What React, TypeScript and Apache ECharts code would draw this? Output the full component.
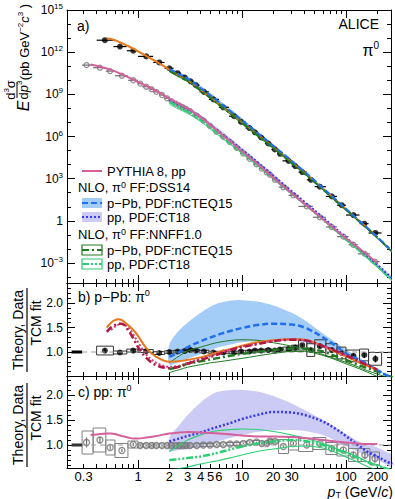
import { useEffect, useRef } from 'react';
import * as echarts from 'echarts';

const FONT = '"Liberation Sans", Arial, Helvetica, sans-serif';
const N = null;

// ---------- TCM fit grid (pT in GeV/c) ----------
const fitPt = [0.3, 0.35, 0.4, 0.5, 0.55, 0.6, 0.65, 0.7, 0.8, 0.9, 1, 1.2, 1.5, 2, 2.5, 3, 4, 5, 6, 8, 10, 14, 20, 30, 40, 60, 80, 100, 130, 160, 200, 250, 280];
const pPbFit = [1.12e13, 1.0e13, 8.9e12, 6.6e12, 5.4e12, 4.3e12, 3.4e12, 2.7e12, 1.78e12, 1.23e12, 8.7e11, 5.0e11, 2.4e11, 7.2e10, 2.6e10, 1.2e10, 2.3e9, 6.2e8, 2.1e8, 3.7e7, 9.5e6, 1.23e6, 1.41e5, 1.2e4, 2.1e3, 170, 29, 7.4, 1.5, 0.43, 0.112, 0.028, 0.014];
const ppFit = [1.26e11, 1.12e11, 8.9e10, 5.6e10, 4.5e10, 3.5e10, 2.8e10, 2.2e10, 1.48e10, 1.0e10, 6.8e9, 3.5e9, 1.5e9, 4.0e8, 1.6e8, 7.9e7, 1.9e7, 5.0e6, 1.66e6, 3.0e5, 7.6e4, 9.8e3, 1.0e3, 79, 14, 1.2, 0.21, 0.056, 0.0126, 0.0038, 0.001, 2.5e-4, 1.26e-4];

// model / fit ratios on the fit grid
const orangeRatio = [N, N, N, 1.5, 1.6, 1.65, 1.67, 1.65, 1.55, 1.45, 1.33, 1.08, 0.9, 0.8, 0.81, 0.84, 0.89, 0.95, 1.0, 1.07, 1.13, 1.2, 1.24, 1.26, 1.25, 1.12, 1.0, 0.91, 0.8, 0.72, 0.63, N, N];
const crimsonRatio = [N, N, N, 1.41, 1.5, 1.55, 1.58, 1.58, 1.45, 1.28, 1.1, 0.88, 0.73, 0.67, 0.7, 0.76, 0.84, 0.9, 0.96, 1.05, 1.1, 1.16, 1.22, 1.25, 1.24, 1.12, 1.02, 0.93, 0.82, 0.73, 0.64, N, N];
const pinkDotRatio = [N, N, N, N, 1.45, 1.52, 1.56, 1.57, 1.5, 1.36, 1.2, 0.95, 0.78, 0.7, 0.72, 0.78, 0.86, 0.92, 0.98, 1.06, 1.11, 1.17, 1.23, 1.26, 1.24, 1.13, 1.03, 0.94, 0.83, 0.74, 0.65, N, N];
const pythiaRatio = [N, 1.2, 1.21, 1.23, 1.23, 1.22, 1.2, 1.18, 1.15, 1.13, 1.13, 1.15, 1.18, 1.23, 1.25, 1.26, 1.25, 1.24, 1.23, 1.21, 1.19, 1.17, 1.17, 1.16, 1.14, 1.1, 1.07, 1.05, 1.03, 1.02, 1.02, N, N];

// NLO grid
const nloPt = [2, 2.5, 3, 4, 5, 6, 8, 10, 14, 20, 30, 40, 60, 80, 100, 130, 160, 200, 250, 280];
const dssPPbC = [0.9, 1.0, 1.1, 1.22, 1.3, 1.36, 1.44, 1.49, 1.55, 1.58, 1.56, 1.5, 1.3, 1.12, 0.97, 0.85, 0.75, 0.63, 0.52, 0.48];
const dssPPbHi = [1.15, 1.45, 1.6, 1.8, 1.93, 2.0, 2.05, 2.06, 2.03, 1.95, 1.8, 1.65, 1.38, 1.2, 1.05, 0.9, 0.78, 0.65, 0.54, 0.5];
const dssPPbLo = [0.74, 0.8, 0.86, 0.96, 1.04, 1.1, 1.16, 1.2, 1.22, 1.23, 1.23, 1.2, 1.08, 0.98, 0.9, 0.8, 0.72, 0.62, 0.5, 0.46];
const nnPPbC = [0.65, 0.7, 0.76, 0.81, 0.85, 0.88, 0.93, 0.96, 1.0, 1.04, 1.07, 1.07, 1.01, 0.91, 0.84, 0.74, 0.67, 0.6, 0.52, 0.48];
const nnPPbE1 = [0.78, 0.92, 1.02, 1.1, 1.16, 1.2, 1.24, 1.25, 1.24, 1.19, 1.12, 1.06, 0.95, 0.86, 0.79, 0.7, 0.62, 0.55, 0.48, 0.45];
const nnPPbE2 = [0.58, 0.64, 0.69, 0.74, 0.78, 0.8, 0.84, 0.87, 0.92, 0.97, 1.01, 1.01, 0.93, 0.84, 0.76, 0.67, 0.59, 0.5, 0.42, 0.38];
const dssPpC = [1.07, 1.13, 1.18, 1.25, 1.32, 1.37, 1.45, 1.52, 1.6, 1.66, 1.65, 1.6, 1.47, 1.32, 1.18, 1.0, 0.87, 0.77, 0.66, 0.62];
const dssPpHi = [1.15, 1.4, 1.6, 1.85, 2.0, 2.07, 2.1, 2.1, 2.07, 1.98, 1.83, 1.7, 1.5, 1.35, 1.22, 1.08, 1.0, 0.95, 0.85, 0.8];
const dssPpLo = [0.88, 0.9, 0.92, 0.97, 1.03, 1.08, 1.15, 1.2, 1.26, 1.29, 1.3, 1.28, 1.2, 1.08, 0.98, 0.86, 0.78, 0.7, 0.6, 0.56];
const nnPpC = [0.7, 0.72, 0.74, 0.77, 0.81, 0.85, 0.92, 0.97, 1.03, 1.07, 1.1, 1.08, 1.0, 0.91, 0.84, 0.74, 0.66, 0.59, 0.52, 0.49];
const nnPpE1 = [0.87, 1.0, 1.1, 1.2, 1.26, 1.29, 1.31, 1.32, 1.31, 1.27, 1.2, 1.14, 1.03, 0.93, 0.86, 0.76, 0.67, 0.6, 0.52, 0.48];
const nnPpE2 = [0.5, 0.53, 0.56, 0.62, 0.66, 0.69, 0.75, 0.8, 0.87, 0.92, 0.97, 0.98, 0.94, 0.85, 0.76, 0.66, 0.57, 0.5, 0.42, 0.38];

// ---------- p-Pb data ----------
const pPbPt = [0.48, 0.67, 0.9, 1.2, 1.6, 2.0, 2.4, 2.8, 3.2, 3.6, 4.3, 5.3, 6.6, 8.4, 9.8, 11.8, 13.3, 15.3, 17.9, 20.7, 23.2, 28, 32.5, 38, 46, 56, 73, 91, 118, 150, 192];
const pPbEdges = [0.4, 0.58, 0.78, 1.0, 1.4, 1.8, 2.2, 2.6, 3.0, 3.4, 3.9, 4.8, 6.0, 7.5, 9.2, 10.8, 12.6, 14.2, 16.6, 19.2, 22, 24.5, 30, 35, 42, 50, 64, 82, 100, 135, 165, 220];
const pPbVal = [7.1e12, 2.5e12, 1.26e12, 5.0e11, 1.86e11, 7.2e10, 3.2e10, 1.6e10, 8.5e9, 4.5e9, 1.5e9, 4.4e8, 1.2e8, 2.8e7, 1.1e7, 4.0e6, 2.0e6, 8.5e5, 3.2e5, 1.2e5, 5.9e4, 1.86e4, 7.9e3, 2.95e3, 830, 270, 55, 13, 2.6, 0.63, 0.138];
const pPbRatio = [1.03, 0.99, 1.03, 1.02, 0.98, 1.0, 1.01, 1.02, 1.04, 1.03, 1.01, 0.99, 0.99, 0.99, 1.01, 1.01, 1.03, 1.03, 1.04, 1.03, 1.05, 1.06, 1.09, 1.14, 1.04, 1.12, 1.04, 0.98, 0.92, 0.94, 0.86];
const pPbStat = [0.04, 0.01, 0.01, 0.01, 0.01, 0.01, 0.01, 0.01, 0.01, 0.01, 0.01, 0.01, 0.01, 0.01, 0.01, 0.01, 0.01, 0.01, 0.01, 0.01, 0.015, 0.015, 0.02, 0.02, 0.03, 0.03, 0.04, 0.04, 0.05, 0.06, 0.07];
const pPbSys = [0.09, 0.03, 0.03, 0.03, 0.03, 0.025, 0.025, 0.025, 0.025, 0.025, 0.025, 0.025, 0.025, 0.025, 0.025, 0.025, 0.025, 0.025, 0.025, 0.025, 0.03, 0.04, 0.05, 0.1, 0.13, 0.13, 0.13, 0.12, 0.12, 0.12, 0.13];

// ---------- pp data ----------
const ppPt = [0.32, 0.43, 0.54, 0.7, 0.9, 1.05, 1.2, 1.35, 1.5, 1.7, 1.9, 2.1, 2.3, 2.5, 2.7, 2.9, 3.16, 3.67, 4.25, 4.92, 5.71, 6.61, 7.67, 8.89, 10.3, 11.9, 13.8, 15.5, 17.3, 18.6, 20.8, 25, 31.2, 41.9, 56.2, 72.8, 94.3, 117.6, 152, 190];
const ppEdges = [0.29, 0.37, 0.49, 0.6, 0.8, 1.0, 1.1, 1.3, 1.4, 1.6, 1.8, 2.0, 2.2, 2.4, 2.6, 2.8, 3.0, 3.4, 4.0, 4.6, 5.3, 6.2, 7.1, 8.3, 9.6, 11, 12.8, 14.7, 16.4, 18, 19.5, 22.5, 28, 35, 48, 64, 82, 106, 130, 170, 210];
const ppVal = [1.2e11, 7.9e10, 4.5e10, 2.1e10, 1.0e10, 5.8e9, 3.5e9, 2.3e9, 1.5e9, 8.9e8, 5.2e8, 3.3e8, 2.2e8, 1.6e8, 1.2e8, 9.1e7, 6.6e7, 3.0e7, 1.4e7, 5.5e6, 2.2e6, 9.5e5, 4.0e5, 1.6e5, 6.3e4, 2.6e4, 1.07e4, 5.2e3, 2.8e3, 1.9e3, 850, 250, 66, 10.7, 1.8, 0.37, 0.076, 0.02, 0.0045, 0.00126];
const ppRatio = [1.05, 1.1, 0.95, 0.89, 1.01, 0.99, 0.99, 0.99, 0.99, 0.99, 0.99, 0.99, 0.99, 0.99, 0.99, 0.99, 0.99, 0.99, 1.0, 1.0, 1.01, 1.01, 1.02, 1.02, 1.03, 1.05, 1.06, 1.03, 1.03, 1.08, 1.07, 0.97, 1.03, 1.0, 1.03, 0.93, 0.9, 0.8, 0.8, 0.73];
const ppStat = [0.1, 0.06, 0.04, 0.03, 0.03, 0.01, 0.01, 0.01, 0.01, 0.01, 0.01, 0.01, 0.01, 0.01, 0.01, 0.01, 0.01, 0.01, 0.01, 0.01, 0.01, 0.01, 0.01, 0.01, 0.01, 0.01, 0.01, 0.015, 0.015, 0.015, 0.015, 0.02, 0.03, 0.03, 0.04, 0.04, 0.05, 0.06, 0.07, 0.08];
const ppSys = [0.23, 0.24, 0.15, 0.14, 0.07, 0.03, 0.03, 0.03, 0.03, 0.03, 0.03, 0.03, 0.03, 0.03, 0.03, 0.03, 0.03, 0.03, 0.03, 0.03, 0.03, 0.03, 0.03, 0.03, 0.03, 0.03, 0.03, 0.03, 0.03, 0.03, 0.03, 0.14, 0.13, 0.13, 0.12, 0.12, 0.12, 0.13, 0.13, 0.13];

const normPt = [0.23, 0.29];
const unityPt = [0.29, 271];

// ---------- axis ticks / labels ----------
const xRange = [0.2075, 271];
const xLabelVals = [0.3, 1, 2, 3, 4, 5, 6, 10, 20, 30, 100, 200];
const xMinorVals = [0.3, 0.4, 0.5, 0.6, 0.7, 0.8, 0.9, 2, 3, 4, 5, 6, 7, 8, 9, 20, 30, 40, 50, 60, 70, 80, 90, 200];
const xMajorVals = [1, 10, 100];
const specRange = [-4.42, 15];
const specLabelExp = [-3, 0, 3, 6, 9, 12, 15];
const specMinorExp = [-4, -3, -2, -1, 0, 1, 2, 3, 4, 5, 6, 7, 8, 9, 10, 11, 12, 13, 14, 15];
const ratioRangeB = [0.51, 2.41];
const ratioRangeC = [0.54, 2.38];
const ratioLabels = [1.0, 1.5, 2.0];
const ratioMinor = [0.6, 0.7, 0.8, 0.9, 1.0, 1.1, 1.2, 1.3, 1.4, 1.5, 1.6, 1.7, 1.8, 1.9, 2.0, 2.1, 2.2, 2.3];

const C = {
  pythia: '#d4609c', orange: '#e8781a', crimson: '#b01844', pinkDot: '#d23c7c',
  dssPPb: '#1f6ff0', dssPPbBand: '#a3cdf6', dssPp: '#3838ee', dssPpBand: '#cbcbf6',
  nnPPb: '#1f7a1f', nnPp: '#2ccf72', ppData: '#707070',
};
const DASH = [6, 3];
const DOT = [2, 2];
const DASHDOT = [7, 3, 2, 3];
const DASHDOTDOT = [7, 2, 2, 2, 2, 2];

const lg = (v: number) => Math.log10(v);
const fitAt = (arr: number[], pt: number) => arr[fitPt.indexOf(pt)];

function ratioPts(pt: number[], r: (number | null)[]) {
  const out: number[][] = [];
  pt.forEach((x, i) => { if (r[i] != null) out.push([lg(x), r[i] as number]); });
  return out;
}
function specPts(pt: number[], fit: number[], r: (number | null)[]) {
  const out: number[][] = [];
  pt.forEach((x, i) => { if (r[i] != null) out.push([lg(x), lg(fitAt(fit, x) * (r[i] as number))]); });
  return out;
}

function buildOption() {
  const series: any[] = [];
  const G = (g: number) => ({ xAxisIndex: 4 * g, yAxisIndex: 4 * g });

  const line = (g: number, data: number[][], color: string, width: number, dash?: number[], smooth: number | boolean = 0.35) => {
    series.push({
      type: 'line', ...G(g), data, symbol: 'none', smooth, silent: true, clip: true,
      lineStyle: { color, width, type: dash || 'solid', cap: 'butt' },
    });
  };
  const band = (g: number, up: number[][], lo: number[][], fill: string) => {
    series.push({
      type: 'custom', ...G(g), clip: true, silent: true, data: [up[0]],
      renderItem: (_p: any, api: any) => ({
        type: 'polygon',
        shape: { points: up.map((d) => api.coord(d)).concat(lo.slice().reverse().map((d) => api.coord(d))), smooth: 0.3 },
        style: { fill },
      }),
    });
  };
  const rects = (g: number, data: number[][], stroke: string, lw = 1) => {
    series.push({
      type: 'custom', ...G(g), clip: true, silent: true, data,
      renderItem: (_p: any, api: any) => {
        const a = api.coord([api.value(0), api.value(3)]);
        const b = api.coord([api.value(1), api.value(2)]);
        return { type: 'rect', shape: { x: a[0], y: a[1], width: b[0] - a[0], height: b[1] - a[1] }, style: { fill: 'none', stroke, lineWidth: lw } };
      },
    });
  };
  const segs = (g: number, data: number[][], stroke: string, lw = 1) => {
    series.push({
      type: 'custom', ...G(g), clip: true, silent: true, data,
      renderItem: (_p: any, api: any) => {
        const a = api.coord([api.value(0), api.value(1)]);
        const b = api.coord([api.value(2), api.value(3)]);
        return { type: 'line', shape: { x1: a[0], y1: a[1], x2: b[0], y2: b[1] }, style: { stroke, lineWidth: lw } };
      },
    });
  };
  const points = (g: number, data: number[][], filled: boolean, color: string, size: number) => {
    series.push({
      type: 'scatter', ...G(g), data, symbol: 'circle', symbolSize: size, silent: true, clip: true,
      itemStyle: filled ? { color } : { color: 'rgba(255,255,255,0)', borderColor: color, borderWidth: 1.3 },
    });
  };

  // ----- panel a: spectra -----
  line(0, specPts(fitPt, pPbFit, orangeRatio), C.orange, 2);
  band(0, specPts(nloPt, pPbFit, dssPPbHi), specPts(nloPt, pPbFit, dssPPbLo), C.dssPPbBand);
  band(0, specPts(nloPt, ppFit, dssPpHi), specPts(nloPt, ppFit, dssPpLo), C.dssPpBand);
  line(0, specPts(nloPt, ppFit, nnPpE1), C.nnPp, 1);
  line(0, specPts(nloPt, ppFit, nnPpE2), C.nnPp, 1);
  line(0, specPts(nloPt, ppFit, nnPpC), C.nnPp, 2, DASHDOTDOT);
  line(0, specPts(nloPt, pPbFit, nnPPbE1), C.nnPPb, 1);
  line(0, specPts(nloPt, pPbFit, nnPPbE2), C.nnPPb, 1);
  line(0, specPts(nloPt, pPbFit, nnPPbC), C.nnPPb, 2, DASHDOT);
  line(0, specPts(nloPt, ppFit, dssPpC), C.dssPp, 2, DOT);
  line(0, specPts(nloPt, pPbFit, dssPPbC), C.dssPPb, 2, DASH);
  line(0, specPts(fitPt, ppFit, pythiaRatio), C.pythia, 2);
  segs(0, ppPt.map((_, i) => [lg(ppEdges[i]), lg(ppVal[i]), lg(ppEdges[i + 1]), lg(ppVal[i])]), C.ppData, 1.2);
  points(0, ppPt.map((x, i) => [lg(x), lg(ppVal[i])]), false, C.ppData, 5);
  segs(0, pPbPt.map((_, i) => [lg(pPbEdges[i]), lg(pPbVal[i]), lg(pPbEdges[i + 1]), lg(pPbVal[i])]), '#000', 1.2);
  points(0, pPbPt.map((x, i) => [lg(x), lg(pPbVal[i])]), true, '#000', 6);

  // ----- panel b: p-Pb ratios -----
  band(1, ratioPts(nloPt, dssPPbHi), ratioPts(nloPt, dssPPbLo), C.dssPPbBand);
  line(1, unityPt.map((x) => [lg(x), 1]), '#9a9a9a', 1, [5, 4], false);
  line(1, normPt.map((x) => [lg(x), 1]), '#000', 3, undefined, false);
  line(1, ratioPts(nloPt, nnPPbE1), C.nnPPb, 1);
  line(1, ratioPts(nloPt, nnPPbE2), C.nnPPb, 1);
  line(1, ratioPts(nloPt, nnPPbC), C.nnPPb, 2.5, DASHDOT);
  line(1, ratioPts(nloPt, dssPPbC), C.dssPPb, 2.5, DASH);
  line(1, ratioPts(fitPt, orangeRatio), C.orange, 2);
  line(1, ratioPts(fitPt, pinkDotRatio), C.pinkDot, 2, DOT);
  line(1, ratioPts(fitPt, crimsonRatio), C.crimson, 2.5, DASHDOT);
  rects(1, pPbPt.map((_, i) => [lg(pPbEdges[i]), lg(pPbEdges[i + 1]), pPbRatio[i] - pPbSys[i], pPbRatio[i] + pPbSys[i]]), '#333', 1);
  segs(1, pPbPt.map((x, i) => [lg(x), pPbRatio[i] - pPbStat[i], lg(x), pPbRatio[i] + pPbStat[i]]), '#000', 1.2);
  points(1, pPbPt.map((x, i) => [lg(x), pPbRatio[i]]), true, '#000', 6);

  // ----- panel c: pp ratios -----
  band(2, ratioPts(nloPt, dssPpHi), ratioPts(nloPt, dssPpLo), C.dssPpBand);
  line(2, unityPt.map((x) => [lg(x), 1]), '#9a9a9a', 1, [5, 4], false);
  line(2, normPt.map((x) => [lg(x), 1]), '#333', 3, undefined, false);
  line(2, ratioPts(nloPt, nnPpE1), C.nnPp, 1.2);
  line(2, ratioPts(nloPt, nnPpE2), C.nnPp, 1.2);
  line(2, ratioPts(nloPt, nnPpC), C.nnPp, 2.5, DASHDOTDOT);
  line(2, ratioPts(nloPt, dssPpC), C.dssPp, 2.5, DOT);
  line(2, ratioPts(fitPt, pythiaRatio), C.pythia, 2);
  rects(2, ppPt.map((_, i) => [lg(ppEdges[i]), lg(ppEdges[i + 1]), ppRatio[i] - ppSys[i], ppRatio[i] + ppSys[i]]), '#808080', 1);
  segs(2, ppPt.map((x, i) => [lg(x), ppRatio[i] - ppStat[i], lg(x), ppRatio[i] + ppStat[i]]), C.ppData, 1.2);
  points(2, ppPt.map((x, i) => [lg(x), ppRatio[i]]), false, C.ppData, 6);

  // ----- axes -----
  const grids = [
    { left: 67, top: 10, width: 324, height: 273 },
    { left: 67, top: 283, width: 324, height: 93 },
    { left: 67, top: 376, width: 324, height: 92 },
  ].map((g) => ({ ...g, containLabel: false, outerBoundsMode: 'none' }));

  const richNum = {
    n: { fontSize: 12, fontFamily: FONT, color: '#000', lineHeight: 15 },
    s: { fontSize: 8, fontFamily: FONT, color: '#000', lineHeight: 8, verticalAlign: 'top' },
  };
  const ax = (g: number, pos: string, range: number[], ticks: number[], len: number, showLine: boolean, label: any) => ({
    type: 'value', gridIndex: g, position: pos, min: range[0], max: range[1],
    axisLine: { show: showLine, onZero: false, lineStyle: { color: '#000', width: 1 } },
    axisTick: { show: true, inside: true, length: len, customValues: ticks, lineStyle: { color: '#000', width: 1 } },
    axisLabel: label
      ? {
          show: true, customValues: label.values, formatter: label.fmt, margin: label.margin, fontSize: label.size || 12,
          lineHeight: label.lh, fontFamily: FONT, color: '#000', rich: label.rich,
        }
      : { show: false },
    splitLine: { show: false },
    axisPointer: { show: false },
  });

  const xr = [lg(xRange[0]), lg(xRange[1])];
  const xLabel = {
    values: xLabelVals.map(lg), margin: 2, size: 13, lh: 13,
    fmt: (v: number) => { const p = Math.pow(10, v); return p < 1 ? p.toFixed(1) : String(Math.round(p)); },
  };
  const xAxis: any[] = [];
  const yAxis: any[] = [];
  const yCfg = [
    { range: specRange, minor: specMinorExp, major: specLabelExp, label: { values: specLabelExp, margin: 4, rich: richNum, fmt: (v: number) => (Math.abs(v) < 1e-9 ? '{n|1}' : `{n|10}{s|${v < 0 ? '\u2212' + -v : v}}`) } },
    { range: ratioRangeB, minor: ratioMinor, major: ratioLabels, label: { values: ratioLabels, margin: 4, fmt: (v: number) => v.toFixed(1) } },
    { range: ratioRangeC, minor: ratioMinor, major: ratioLabels, label: { values: ratioLabels, margin: 4, fmt: (v: number) => v.toFixed(1) } },
  ];
  for (let g = 0; g < 3; g++) {
    xAxis.push(ax(g, 'bottom', xr, xMinorVals.map(lg), 4, true, g === 2 ? xLabel : null));
    xAxis.push(ax(g, 'bottom', xr, xMajorVals.map(lg), 8, false, null));
    xAxis.push(ax(g, 'top', xr, xMinorVals.map(lg), 4, true, null));
    xAxis.push(ax(g, 'top', xr, xMajorVals.map(lg), 8, false, null));
    const c = yCfg[g];
    yAxis.push(ax(g, 'left', c.range, c.minor, 4, true, null));
    yAxis.push(ax(g, 'left', c.range, c.major, 8, false, c.label));
    yAxis.push(ax(g, 'right', c.range, c.minor, 4, true, null));
    yAxis.push(ax(g, 'right', c.range, c.major, 8, false, null));
  }

  // ----- texts & legend -----
  const t = (x: number, y: number, text: string, size = 14, align = 'left', extra: any = {}) => ({
    type: 'text', x, y, silent: true,
    style: { text, fontSize: size, fontFamily: FONT, fill: '#000', align, verticalAlign: 'middle', ...extra },
  });
  const rich = (n: number, s: number, lh?: number) => ({
    n: { fontSize: n, fontFamily: FONT, fill: '#000', lineHeight: lh || n + 3 },
    i: { fontSize: n, fontFamily: FONT, fill: '#000', fontStyle: 'italic', lineHeight: lh || n + 3 },
    s: { fontSize: s, fontFamily: FONT, fill: '#000', lineHeight: s, verticalAlign: 'top' },
    sub: { fontSize: s, fontFamily: FONT, fill: '#000', lineHeight: s, verticalAlign: 'bottom' },
  });
  const lx1 = 82, lx2 = 102, tx = 107;
  const LF = 13;
  const legendLine = (y: number, color: string, w: number, dash?: number[]) => ({
    type: 'line', silent: true, shape: { x1: lx1, y1: y, x2: lx2, y2: y }, style: { stroke: color, lineWidth: w, lineDash: dash || null },
  });
  const legendBox = (y: number, fill: string, stroke: string | null) => ({
    type: 'rect', silent: true, shape: { x: lx1, y: y - 5, width: lx2 - lx1, height: 10 },
    style: { fill, stroke: stroke || null, lineWidth: 1.2 },
  });
  const LT = { lineHeight: 13 };

  const ratioTitle = (cy: number) => ({
    type: 'group', x: 27, y: cy, rotation: Math.PI / 2, silent: true,
    children: [
      t(0, -9, 'Theory, Data', 14, 'center'),
      { type: 'line', shape: { x1: -42, y1: 0, x2: 42, y2: 0 }, style: { stroke: '#000', lineWidth: 1.2 } },
      t(7, 9, 'TCM fit', 14, 'center'),
    ],
  });

  const graphic = [
    // panel a y title (rotated)
    {
      type: 'group', x: 17, y: 68, rotation: Math.PI / 2, silent: true,
      children: [
        t(-38, 6, 'E', 16, 'center', { fontStyle: 'italic' }),
        t(-22, -7, '{n|d}{s|3}{n|σ}', 13, 'center', { rich: rich(13, 8) }),
        { type: 'line', shape: { x1: -30, y1: 0, x2: -14, y2: 0 }, style: { stroke: '#000', lineWidth: 1 } },
        t(-22, 6, '{n|d}{i|p}{s|3}', 13, 'center', { rich: rich(13, 8) }),
        t(26, 7, '{n|(pb GeV}{s|\u22122}{i|c}{s|3}{n| )}', 13, 'center', { rich: rich(13, 8) }),
      ],
    },
    ratioTitle(330),
    ratioTitle(425),
    t(393, 492, '{i|p}{sub|T}{n| (GeV/}{i|c}{n|)}', 14, 'right', { rich: rich(14, 9, 14) }),
    t(77, 26, 'a)', 14),
    t(379, 24, 'ALICE', 14, 'right'),
    t(379, 50, '{n|π}{s|0}', 16, 'right', { rich: rich(16, 10) }),
    t(78, 297, '{n|b) p\u2212Pb: π}{s|0}', 14, 'left', { rich: rich(14, 9) }),
    t(78, 392, '{n|c) pp: π}{s|0}', 14, 'left', { rich: rich(14, 9) }),
    // legend
    legendLine(171, C.pythia, 2),
    t(tx, 171, 'PYTHIA 8, pp', LF, 'left', LT),
    t(78, 187, '{n|NLO, π}{s|0}{n| FF:DSS14}', LF, 'left', { rich: rich(LF, 9, 13) }),
    legendBox(203, C.dssPPbBand, null),
    legendLine(203, C.dssPPb, 2, DASH),
    t(tx, 203, 'p\u2212Pb, PDF:nCTEQ15', LF, 'left', LT),
    legendBox(217, C.dssPpBand, null),
    legendLine(217, C.dssPp, 2, DOT),
    t(tx, 217, 'pp, PDF:CT18', LF, 'left', LT),
    t(78, 234, '{n|NLO, π}{s|0}{n| FF:NNFF1.0}', LF, 'left', { rich: rich(LF, 9, 13) }),
    legendBox(250, 'none', C.nnPPb),
    legendLine(250, C.nnPPb, 2, DASHDOT),
    t(tx, 250, 'p\u2212Pb, PDF:nCTEQ15', LF, 'left', LT),
    legendBox(264, 'none', C.nnPp),
    legendLine(264, C.nnPp, 2, DASHDOTDOT),
    t(tx, 264, 'pp, PDF:CT18', LF, 'left', LT),
  ];

  return {
    animation: false,
    backgroundColor: '#fff',
    grid: grids,
    xAxis,
    yAxis,
    series,
    graphic: { elements: graphic },
  };
}

export default function App() {
  const ref = useRef<HTMLDivElement>(null);
  useEffect(() => {
    if (!ref.current) return;
    const chart = echarts.init(ref.current, undefined, { renderer: 'svg' });
    chart.setOption(buildOption() as any);
    return () => chart.dispose();
  }, []);
  return <div ref={ref} style={{ position: 'absolute', left: 0, top: 0, width: 395, height: 499, background: '#fff' }} />;
}
